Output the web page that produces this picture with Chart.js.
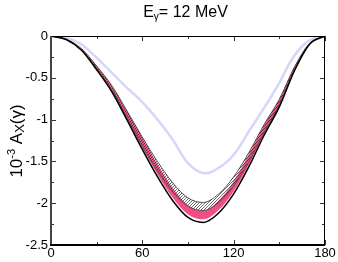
<!DOCTYPE html>
<html><head><meta charset="utf-8">
<script src="https://cdn.jsdelivr.net/npm/chart.js@4.4.1/dist/chart.umd.min.js"></script>
<style>html,body{margin:0;padding:0;background:#fff;}#wrap{width:338px;height:262px;}</style>
</head><body><div id="wrap"><canvas id="c" width="338" height="262"></canvas></div>
<script>
// ---- data ----
const angles     = [0, 10, 20, 30, 40, 50, 60, 70, 80, 90, 100, 110, 120, 130, 140, 150, 160, 170, 180];
const lavender   = [0, -0.02, -0.10, -0.26, -0.44, -0.62, -0.79, -1.00, -1.24, -1.52, -1.64, -1.58, -1.42, -1.14, -0.86, -0.56, -0.23, -0.05, 0];
const pinkUpper  = [0, -0.038, -0.153, -0.363, -0.602, -0.907, -1.222, -1.541, -1.824, -2.028, -2.090, -1.977, -1.742, -1.420, -1.070, -0.764, -0.372, -0.086, 0];
const pinkLower  = [0, -0.042, -0.166, -0.395, -0.655, -0.988, -1.331, -1.654, -1.933, -2.131, -2.190, -2.082, -1.854, -1.534, -1.165, -0.832, -0.406, -0.094, 0];
const hatchUpper = [0, -0.038, -0.151, -0.359, -0.595, -0.898, -1.210, -1.503, -1.757, -1.937, -1.991, -1.892, -1.685, -1.394, -1.058, -0.756, -0.369, -0.085, 0];
const hatchLower = [0, -0.041, -0.165, -0.391, -0.649, -0.979, -1.318, -1.616, -1.866, -2.037, -2.088, -1.995, -1.796, -1.506, -1.154, -0.824, -0.402, -0.093, 0];
const blackLine  = [0, -0.042, -0.170, -0.403, -0.668, -1.007, -1.357, -1.686, -1.970, -2.170, -2.230, -2.120, -1.889, -1.563, -1.187, -0.848, -0.413, -0.095, 0];
const xTickLabels = [0, 60, 120, 180];
const yTickLabels = [0, -0.5, -1, -1.5, -2, -2.5];
const titleMain = "E", titleSub = "\u03b3", titleRest = "= 12 MeV";

const pts = arr => angles.map((a, i) => ({x: a, y: arr[i]}));
const canvas = document.getElementById('c');
const ctx0 = canvas.getContext('2d');

function makeHatch() {
  const c = document.createElement('canvas');
  c.width = 3; c.height = 3;
  const g = c.getContext('2d');
  g.strokeStyle = 'rgba(20,20,20,0.9)';
  g.lineWidth = 0.7;
  g.beginPath();
  g.moveTo(-1, 4); g.lineTo(4, -1);
  g.moveTo(-1, 1); g.lineTo(1, -1);
  g.moveTo(2, 4); g.lineTo(4, 2);
  g.stroke();
  return ctx0.createPattern(c, 'repeat');
}

const FONT = 'Liberation Sans, Arial, sans-serif';

const framePlugin = {
  id: 'frame',
  afterDatasetsDraw(chart) {
    const {ctx, chartArea: a, scales: {x, y}} = chart;
    ctx.save();
    ctx.strokeStyle = '#333';
    ctx.lineWidth = 1;
    const seg = (x1, y1, x2, y2) => { ctx.beginPath(); ctx.moveTo(x1, y1); ctx.lineTo(x2, y2); ctx.stroke(); };
    x.ticks.forEach(t => {
      const px = Math.round(x.getPixelForValue(t.value)) + 0.5;
      const L = xTickLabels.includes(t.value) ? 5 : 3;
      seg(px, a.bottom, px, a.bottom - L);
      seg(px, a.top, px, a.top + L);
    });
    y.ticks.forEach(t => {
      const py = Math.round(y.getPixelForValue(t.value)) + 0.5;
      const major = yTickLabels.some(v => Math.abs(v - t.value) < 1e-6);
      const L = major ? 5 : 3;
      seg(a.left, py, a.left + L, py);
      seg(a.right, py, a.right - L, py);
    });
    ctx.strokeStyle = '#000';
    ctx.lineWidth = 1;
    seg(a.left, a.top + 0.5, a.right, a.top + 0.5);
    seg(a.right - 0.5, a.top, a.right - 0.5, a.bottom);
    ctx.lineWidth = 2;
    ctx.strokeStyle = '#444';
    seg(a.left, a.top, a.left, a.bottom + 1);
    ctx.strokeStyle = '#000';
    seg(a.left - 1, a.bottom, a.right, a.bottom);
    ctx.restore();
  },
  afterDraw(chart) {
    const ctx = chart.ctx;
    ctx.save();
    ctx.fillStyle = '#000';
    ctx.textBaseline = 'alphabetic';
    ctx.font = '16px ' + FONT;
    const w1 = ctx.measureText(titleMain).width;
    const w3 = ctx.measureText(titleRest).width;
    ctx.font = '10px ' + FONT;
    const w2 = ctx.measureText(titleSub).width;
    let tx = 185.5 - (w1 + w2 + w3) / 2;
    const ty = 17;
    ctx.font = '16px ' + FONT; ctx.fillText(titleMain, tx, ty); tx += w1;
    ctx.font = '10px ' + FONT; ctx.fillText(titleSub, tx, ty + 3); tx += w2;
    ctx.font = '16px ' + FONT; ctx.fillText(titleRest, tx, ty);
    const parts = [
      {t: '10', f: '17px', dy: 0},
      {t: '-3', f: '11px', dy: -7},
      {t: ' A', f: '17px', dy: 0},
      {t: 'X', f: '13px', dy: 2},
      {t: '(\u03b3)', f: '17px', dy: 0}
    ];
    let total = 0;
    parts.forEach(p => { ctx.font = p.f + ' ' + FONT; p.w = ctx.measureText(p.t).width; total += p.w; });
    ctx.translate(22, 141);
    ctx.rotate(-Math.PI / 2);
    let px = -total / 2;
    parts.forEach(p => { ctx.font = p.f + ' ' + FONT; ctx.fillText(p.t, px, p.dy); px += p.w; });
    ctx.restore();
  }
};

const tickFont = {family: FONT, size: 13};

new Chart(canvas, {
  type: 'line',
  data: {
    datasets: [
      {data: pts(lavender), borderColor: 'rgb(214,214,250)', borderWidth: 2.5, fill: false, order: 6, cubicInterpolationMode: 'default', tension: 0.4},
      {data: pts(pinkUpper), borderColor: 'rgb(236,76,128)', borderWidth: 0.5, fill: false, order: 5},
      {data: pts(pinkLower), borderColor: 'rgb(236,76,128)', borderWidth: 0.5, backgroundColor: 'rgb(242,78,132)', fill: '-1', order: 4},
      {data: pts(hatchUpper), borderColor: '#555', borderWidth: 1, fill: false, order: 3},
      {data: pts(hatchLower), borderColor: '#555', borderWidth: 1, backgroundColor: makeHatch(), fill: '-1', order: 2},
      {data: pts(blackLine), borderColor: '#000', borderWidth: 1.5, fill: false, order: 1}
    ]
  },
  options: {
    responsive: false,
    animation: false,
    devicePixelRatio: 1,
    layout: {padding: {top: 36, right: 13, left: 0, bottom: 0}},
    plugins: {legend: {display: false}, tooltip: {enabled: false}, title: {display: false}},
    elements: {point: {radius: 0}, line: {cubicInterpolationMode: 'monotone'}},
    scales: {
      x: {
        type: 'linear', min: 0, max: 180,
        ticks: {stepSize: 30, autoSkip: false, maxRotation: 0, padding: 1, color: '#000', font: tickFont,
          callback: v => xTickLabels.includes(v) ? String(v) : ''},
        grid: {display: false, drawTicks: false}, border: {display: false},
        afterFit(s) { s.height = 17; }
      },
      y: {
        type: 'linear', min: -2.5, max: 0,
        ticks: {stepSize: 0.25, autoSkip: false, padding: 3, color: '#000', font: tickFont,
          callback: v => yTickLabels.some(t => Math.abs(t - v) < 1e-6) ? String(v) : ''},
        grid: {display: false, drawTicks: false}, border: {display: false},
        afterFit(s) { s.width = 51; }
      }
    }
  },
  plugins: [framePlugin]
});
</script>
</body></html>
